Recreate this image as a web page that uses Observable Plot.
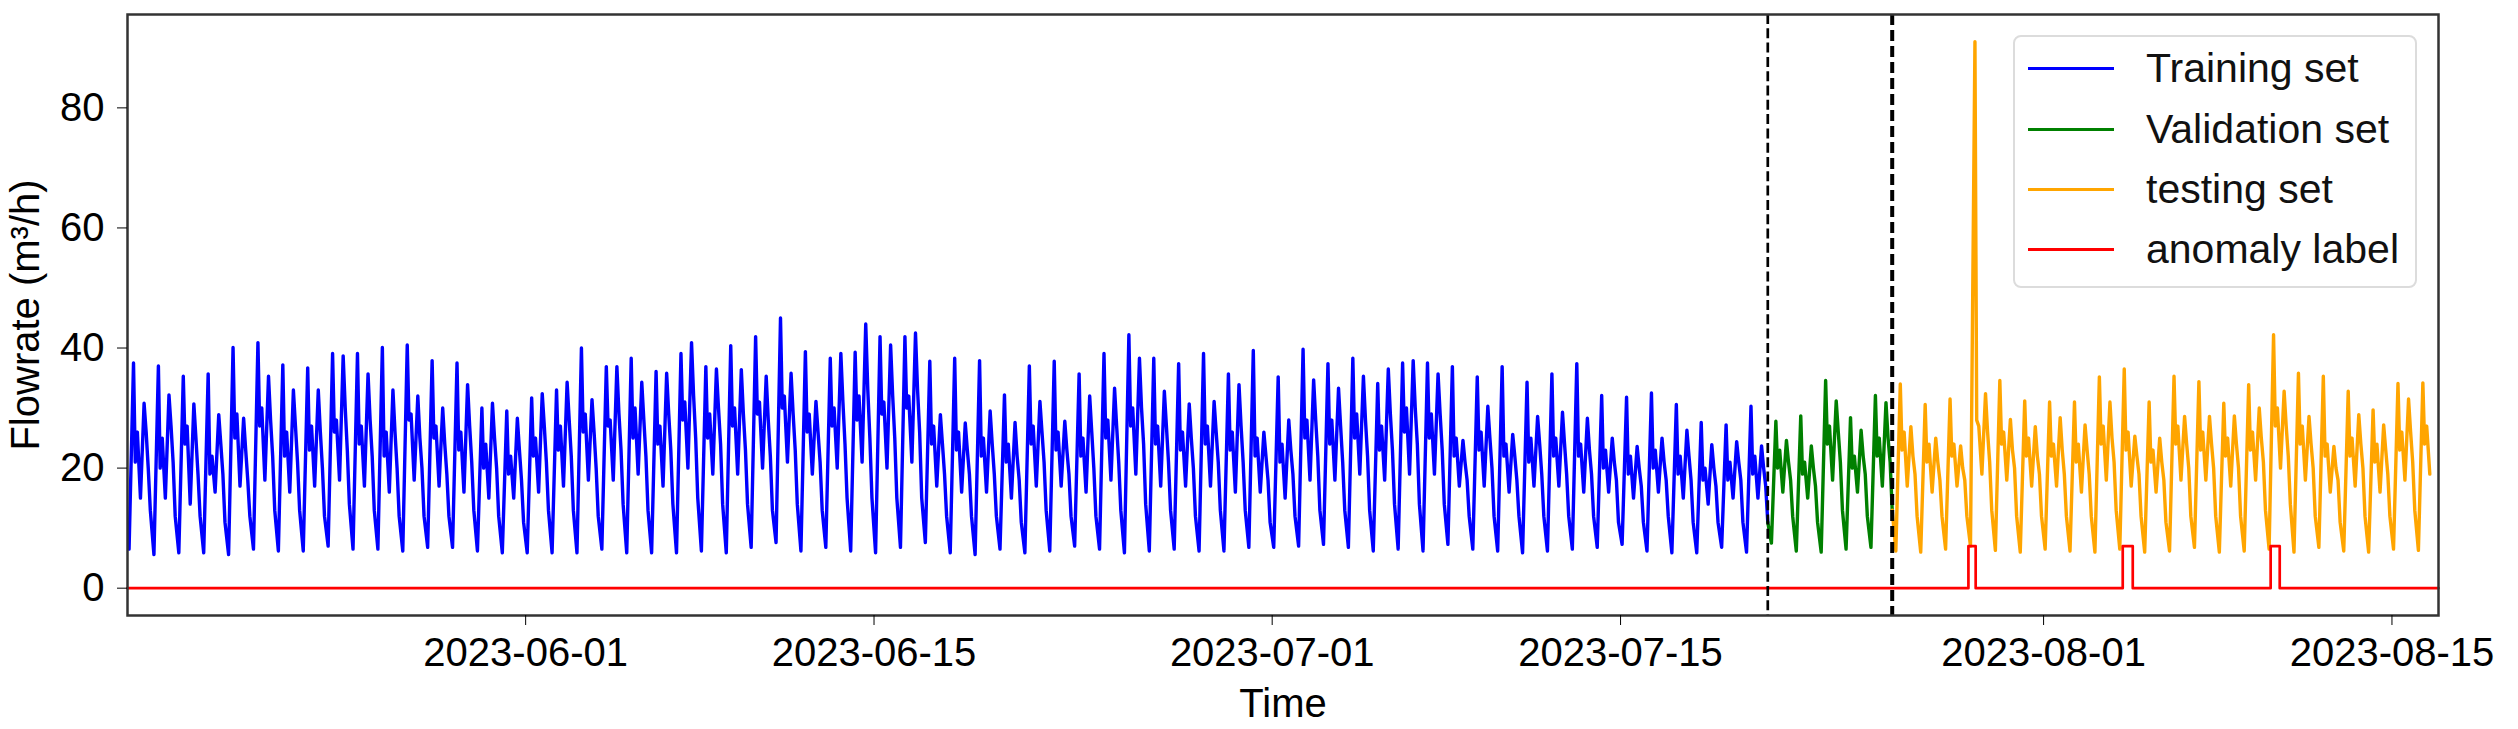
<!DOCTYPE html>
<html>
<head>
<meta charset="utf-8">
<script src="https://cdn.jsdelivr.net/npm/d3@7"></script>
<script src="https://cdn.jsdelivr.net/npm/@observablehq/plot@0.6"></script>
<style>
  body { margin: 0; background: #fff; }
  #wrap { position: relative; width: 2518px; height: 729px; font-family: "Liberation Sans", Arial, sans-serif; }
  #wrap svg { display: block; }
  .legend { position: absolute; left: 2013px; top: 35px; width: 400px; height: 249px; border: 2px solid #dcdcdc; border-radius: 8px; background: rgba(255,255,255,0.85); }
  .item { position: absolute; left: 0; height: 0; }
  .item .sw { position: absolute; left: 13px; width: 86px; height: 3px; top: -1.5px; }
  .item .lab { position: absolute; left: 131px; top: -24px; font-size: 41px; line-height: 48px; white-space: nowrap; color: #111; }
</style>
</head>
<body>
<div id="wrap"></div>
<script>
// ---- data ----
const startDate = "2023-05-16T00:00:00Z";          // first day of the record
const endDate = "2023-08-16T20:53:00Z";            // right edge of the time axis
const trainEnd = "2023-07-20T22:00:00Z";           // training / validation split
const valEnd = "2023-07-25T22:00:00Z";             // validation / testing split
// hour of day of each daily reading
const readingHours = [1.5, 5.8, 7.5, 9.5, 12.5, 16, 18, 20, 22];

// one entry per day (day 0 = 2023-05-16)
const nightLow = [
  6.5,5.6,5.9,5.9,5.6,6.5,6.2,6.2,7.0,6.5,6.5,6.2,6.8,6.8,6.2,5.9,
  5.9,5.9,5.9,6.5,5.9,5.9,5.9,6.2,5.9,6.8,7.6,6.2,6.8,6.2,5.9,6.8,
  7.6,5.9,5.6,6.5,5.9,6.2,7.0,6.5,5.9,6.2,6.5,6.2,6.2,6.8,6.8,7.0,
  7.3,6.8,6.2,6.5,6.2,7.3,6.5,6.2,5.9,6.2,6.5,6.8,7.3,6.2,5.9,5.9,
  6.8,6.0,7.5,6.2,6.0,6.5,6.8,6.2,6.0,6.5,7.0,6.3,6.0,6.5,6.2,6.0,
  6.5,6.0,6.2,6.8,6.0,6.2,6.5,6.0,6.8,6.2,6.0,6.5,6.3];
const morningPeak = [
  37.5,37.0,35.3,35.7,40.1,40.9,37.2,36.7,39.1,39.1,40.1,40.5,37.9,37.5,30.0,29.5,
  31.7,33.0,40.0,36.9,38.3,36.1,39.1,36.9,40.4,41.9,45.0,39.4,38.3,39.3,41.9,41.9,
  37.8,38.3,37.9,32.2,37.0,37.8,35.7,39.1,42.2,38.3,37.4,39.1,35.7,39.6,35.2,39.8,
  37.4,38.3,34.1,37.5,37.5,36.9,35.2,36.9,34.3,35.7,37.4,32.1,31.8,32.5,30.6,27.6,
  27.2,30.3,27.8,28.7,34.6,28.4,32.1,34.0,30.6,31.5,91.0,34.6,31.2,31.0,31.0,35.2,
  36.5,31.0,35.3,34.4,30.8,33.9,42.2,35.8,35.3,32.8,29.7,34.1,34.2];
const afterMorning = [
  21,20,24,19,25,27,22,23,26,24,22,28,25,23,20,19,
  22,23,26,27,25,24,28,25,27,29,30,26,27,28,29,30,
  24,23,22,21,24,23,22,25,27,24,23,24,23,22,21,25,
  24,25,23,26,25,22,23,22,21,22,22,20,19,20,19,18,
  18,19,20,19,24,20,22,23,21,22,28,24,22,22,21,24,
  23,21,24,23,22,23,27,24,22,22,21,23,24];
const lateMorning = [
  26,25,27,22,29,30,26,27,28,27,26,29,27,26,24,22,
  25,27,29,28,30,27,31,29,30,31,32,29,30,32,31,32,
  27,26,25,24,27,26,25,28,30,27,26,27,26,25,24,28,
  28,29,27,30,29,25,26,24,25,25,24,23,22,23,22,20,
  21,22,23,21,27,22,25,26,24,24,27,26,25,24,24,27,
  26,23,27,26,25,26,30,27,24,25,24,26,27];
const middayDip = [
  15,15,14,16,17,18,16,17,18,17,16,18,17,16,15,15,
  16,17,18,18,19,17,20,19,19,20,21,19,20,21,20,21,
  17,16,16,15,17,17,16,18,19,17,17,17,16,16,15,18,
  18,19,18,19,19,17,17,16,17,17,16,16,15,16,15,14,
  15,15,16,15,18,16,17,17,16,17,19,18,17,17,16,18,
  17,16,18,18,17,18,20,18,16,17,16,18,19];
const afternoonPeak = [
  30.8,32.2,30.7,28.9,28.3,35.3,33.0,33.0,38.7,35.7,33.0,32.0,30.0,33.9,30.8,28.3,
  32.4,34.3,31.4,36.9,34.3,35.8,40.9,36.5,36.4,35.3,35.8,31.1,39.1,44.0,40.5,42.5,
  28.9,27.5,29.5,27.6,31.1,27.8,32.0,33.3,38.3,32.8,30.7,31.1,33.9,26.0,28.0,34.7,
  33.3,35.3,36.5,37.9,35.7,24.6,30.3,25.6,28.6,29.3,28.3,25.0,23.6,25.0,26.3,23.9,
  24.4,23.7,24.6,23.7,31.2,26.3,30.9,26.9,25.0,23.7,32.4,28.1,26.9,28.4,27.2,31.0,
  25.3,25.0,28.6,28.6,28.7,30.0,32.8,28.6,23.6,28.9,27.2,31.5,null];
const afterAfternoon = [
  26,27,25,24,23,28,27,26,30,28,26,25,24,27,25,23,
  27,28,26,29,28,29,32,30,29,28,29,26,31,33,32,33,
  24,23,24,22,26,23,26,27,30,27,25,26,27,22,23,28,
  27,28,29,30,29,21,25,22,24,24,23,21,20,21,22,20,
  21,20,21,20,26,22,25,22,21,20,26,23,22,23,23,25,
  22,21,24,24,24,25,27,24,20,24,23,26,null];
const evening = [
  20,21,19,19,18,22,21,20,23,22,20,20,19,21,20,18,
  21,22,20,23,22,23,25,24,23,22,23,21,24,25,25,26,
  19,19,19,18,21,19,20,21,24,21,20,21,21,18,19,22,
  21,22,23,24,23,18,20,18,19,19,19,18,17,18,18,17,
  18,17,18,17,21,19,21,19,18,18,21,20,19,19,19,21,
  19,18,20,20,20,21,22,20,18,20,19,21,null];
const lateNight = [
  13,12,12,11,12,13,13,12,14,13,12,12,12,13,12,11,
  13,13,12,14,13,14,15,14,14,13,14,13,15,15,15,15,
  12,12,12,11,13,12,12,13,14,13,12,13,13,11,12,13,
  13,13,14,14,14,12,12,12,12,12,12,11,11,12,11,11,
  11,11,12,11,13,12,13,12,12,12,13,12,12,12,12,13,
  12,11,12,12,12,13,14,12,11,12,12,13,null];

// anomaly label windows and their level
const anomalyStart = ["2023-07-28T23:30:00Z", "2023-08-04T04:20:00Z", "2023-08-10T03:00:00Z"];
const anomalyEnd   = ["2023-07-29T06:30:00Z", "2023-08-04T14:00:00Z", "2023-08-10T11:45:00Z"];
const anomalyLevel = 7;

const xTicks = ["2023-06-01", "2023-06-15", "2023-07-01", "2023-07-15", "2023-08-01", "2023-08-15"];
const yTicks = [0, 20, 40, 60, 80];

const legendItems = [
  {label: "Training set", color: "#0000ff"},
  {label: "Validation set", color: "#008000"},
  {label: "testing set", color: "#ffa500"},
  {label: "anomaly label", color: "#ff0000"}
];

// ---- build the table ----
const DAY = 86400000;
const t0 = new Date(startDate).getTime();
const slots = [nightLow, morningPeak, afterMorning, lateMorning, middayDip, afternoonPeak, afterAfternoon, evening, lateNight];
const rows = [];
for (let i = 0; i < nightLow.length; i++) {
  slots.forEach((arr, j) => {
    const v = arr[i];
    if (v != null) rows.push({t: new Date(t0 + (i + readingHours[j] / 24) * DAY), v});
  });
}
const tTrain = new Date(trainEnd), tVal = new Date(valEnd);
const train = rows.filter(d => d.t <= tTrain);
const val = rows.filter(d => d.t >= tTrain && d.t <= tVal);
const test = rows.filter(d => d.t >= tVal);

const anomaly = [{t: new Date(startDate), v: 0}];
anomalyStart.forEach((s, k) => {
  anomaly.push({t: new Date(s), v: anomalyLevel});
  anomaly.push({t: new Date(anomalyEnd[k]), v: 0});
});
anomaly.push({t: new Date(endDate), v: 0});

const font = '"Liberation Sans", Arial, sans-serif';
const chart = Plot.plot({
  width: 2518,
  height: 729,
  marginLeft: 127,
  marginRight: 80,
  marginTop: 14,
  marginBottom: 114,
  style: {fontFamily: font, fontSize: "40px", color: "#000", background: "#fff"},
  x: {type: "utc", domain: [new Date(startDate), new Date(endDate)]},
  y: {domain: [-4.55, 95.55]},
  marks: [
    Plot.line(train, {x: "t", y: "v", stroke: "#0000ff", strokeWidth: 3.4}),
    Plot.line(val, {x: "t", y: "v", stroke: "#008000", strokeWidth: 3.4}),
    Plot.line(test, {x: "t", y: "v", stroke: "#ffa500", strokeWidth: 3.4}),
    Plot.line(anomaly, {x: "t", y: "v", stroke: "#ff0000", strokeWidth: 2.7, curve: "step-after"}),
    Plot.ruleX([tTrain], {stroke: "#000", strokeWidth: 2.7, strokeDasharray: "10,4.3"}),
    Plot.ruleX([tVal], {stroke: "#000", strokeWidth: 4, strokeDasharray: "11,5"}),
    Plot.frame({stroke: "#333", strokeWidth: 2.5}),
    Plot.axisX({
      ticks: xTicks.map(d => new Date(d + "T00:00:00Z")),
      tickFormat: d3.utcFormat("%Y-%m-%d"),
      tickSize: 10, tickPadding: 12, fontSize: 40,
      label: "Time", labelAnchor: "center", labelArrow: "none", labelOffset: 101
    }),
    Plot.axisY({
      ticks: yTicks, tickSize: 10, tickPadding: 13, fontSize: 40,
      label: "Flowrate (m³/h)", labelAnchor: "center", labelArrow: "none", labelOffset: 117
    })
  ]
});

const wrap = document.getElementById("wrap");
wrap.appendChild(chart);

const legend = document.createElement("div");
legend.className = "legend";
const rowY = [31, 92, 152, 212];
legendItems.forEach((it, k) => {
  const item = document.createElement("div");
  item.className = "item";
  item.style.top = rowY[k] + "px";
  const sw = document.createElement("div");
  sw.className = "sw";
  sw.style.background = it.color;
  const lab = document.createElement("div");
  lab.className = "lab";
  lab.textContent = it.label;
  item.appendChild(sw);
  item.appendChild(lab);
  legend.appendChild(item);
});
wrap.appendChild(legend);
</script>
</body>
</html>
